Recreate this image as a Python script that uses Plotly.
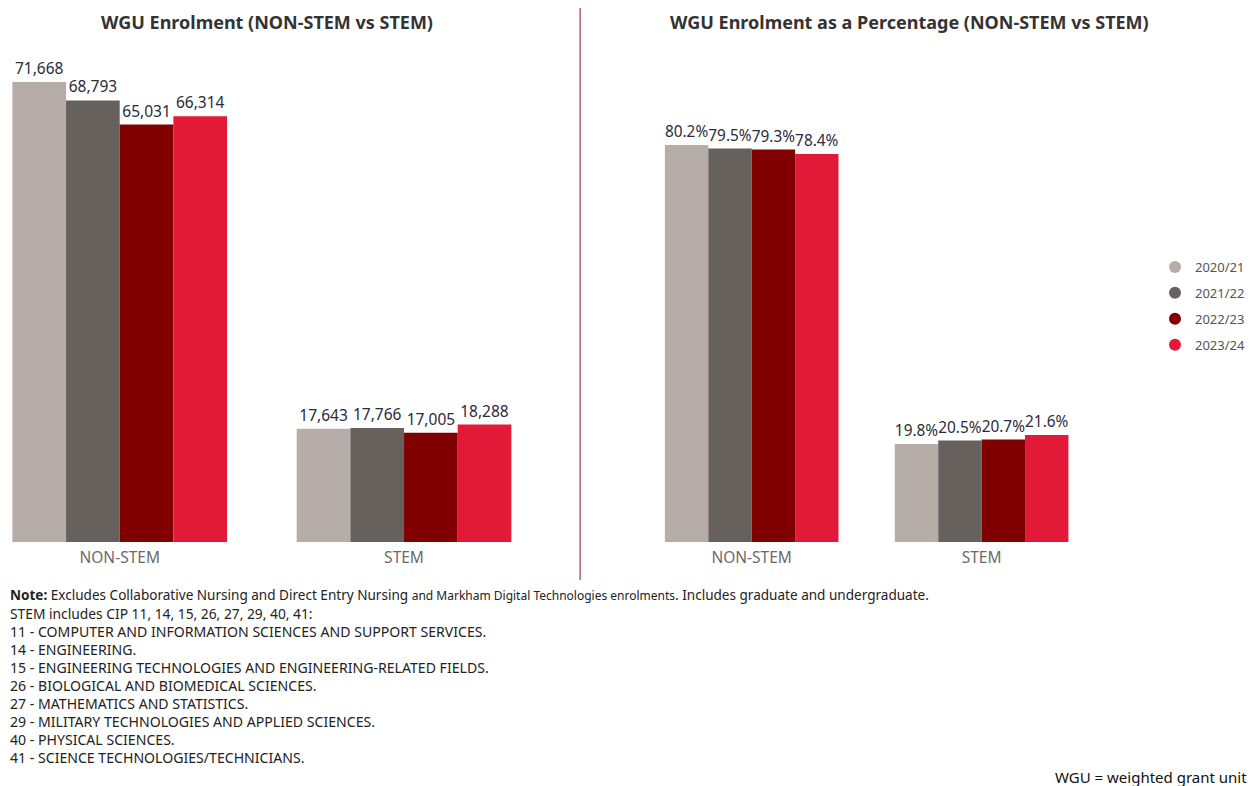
import plotly.graph_objects as go

# Enrolment data (weighted grant units)
categories = ["NON-STEM", "STEM"]
years = ["2020/21", "2021/22", "2022/23", "2023/24"]
wgu_nonstem = [71668, 68793, 65031, 66314]
wgu_stem = [17643, 17766, 17005, 18288]
pct_nonstem = [80.2, 79.5, 79.3, 78.4]
pct_stem = [19.8, 20.5, 20.7, 21.6]
colors = ["#b6ada8", "#67615e", "#800000", "#e21a38"]

W, H = 1251, 786
LABEL_FONT = "Noto Sans, Open Sans, sans-serif"


def px_x(p):
    return p / W


def px_y(p):
    return 1 - p / H


fig = go.Figure()

for i, yr in enumerate(years):
    vals = [wgu_nonstem[i], wgu_stem[i]]
    fig.add_trace(go.Bar(
        x=categories, y=vals, name=yr, marker_color=colors[i],
        marker_line_width=0,
        text=[f"{v:,}" for v in vals], textposition="outside",
        textfont=dict(size=15.5, color="#2b2b3a", family=LABEL_FONT),
        cliponaxis=False, showlegend=False, xaxis="x", yaxis="y",
    ))

for i, yr in enumerate(years):
    vals = [pct_nonstem[i], pct_stem[i]]
    fig.add_trace(go.Bar(
        x=categories, y=vals, name=yr, marker_color=colors[i],
        marker_line_width=0,
        text=[f"{v:.1f}%" for v in vals], textposition="outside",
        textfont=dict(size=15.5, color="#2b2b3a", family=LABEL_FONT),
        cliponaxis=False, showlegend=False, xaxis="x2", yaxis="y2",
    ))

# Legend entries drawn as circle markers
for i, yr in enumerate(years):
    fig.add_trace(go.Scatter(
        x=[None], y=[None], mode="markers", name=yr, legendgroup=yr,
        marker=dict(symbol="circle", size=12, color=colors[i]),
        xaxis="x2", yaxis="y2",
    ))

plot_top, plot_bottom = 50, 542
y_dom = [px_y(plot_bottom), px_y(plot_top)]

# left chart: 460 px for 71,668
left_ymax = 71668 * (plot_bottom - plot_top) / 460
# right chart: 397 px for 80.2 %
right_ymax = 80.2 * (plot_bottom - plot_top) / 397

l0, l1 = 5, 570
r0, r1 = 600, 1140
lc, lstep = 120, 285      # left: first category centre / spacing (px)
rc, rstep = 753.5, 230.5  # right: first category centre / spacing (px)

axis_common = dict(showgrid=False, zeroline=False, showline=False, ticks="")
tick_font = dict(size=15.5, color="#6b6b6b", family=LABEL_FONT)

fig.update_layout(
    width=W, height=H,
    margin=dict(l=0, r=0, t=0, b=0),
    paper_bgcolor="white", plot_bgcolor="white",
    barmode="group", bargap=0.245, bargroupgap=0,
    font=dict(family=LABEL_FONT, color="#333"),
    xaxis=dict(domain=[px_x(l0), px_x(l1)], range=[(l0 - lc) / lstep, (l1 - lc) / lstep],
               tickfont=tick_font, ticklabelstandoff=4, anchor="y", **axis_common),
    yaxis=dict(domain=y_dom, range=[0, left_ymax], showticklabels=False, anchor="x", **axis_common),
    xaxis2=dict(domain=[px_x(r0), px_x(r1)], range=[(r0 - rc) / rstep, (r1 - rc) / rstep],
                tickfont=tick_font, ticklabelstandoff=4, anchor="y2", **axis_common),
    yaxis2=dict(domain=y_dom, range=[0, right_ymax], showticklabels=False, anchor="x2", **axis_common),
    legend=dict(x=px_x(1158), y=px_y(252), xanchor="left", yanchor="top",
                font=dict(size=13, color="#555", family=LABEL_FONT),
                tracegroupgap=6, itemwidth=30, bgcolor="rgba(0,0,0,0)"),
)

# Vertical divider between the two charts
fig.add_shape(type="line", xref="paper", yref="paper",
              x0=px_x(581.5), x1=px_x(581.5), y0=px_y(8), y1=px_y(580),
              line=dict(color="#9b0f28", width=1))

titles = [("WGU Enrolment (NON-STEM vs STEM)", 268),
          ("WGU Enrolment as a Percentage (NON-STEM vs STEM)", 912)]
for txt, cx in titles:
    fig.add_annotation(text=f"<b>{txt}</b>", xref="paper", yref="paper",
                       x=px_x(cx), y=px_y(22), xanchor="center", yanchor="middle",
                       showarrow=False, font=dict(size=18, color="#333", family=LABEL_FONT))

# Footnote lines with their font sizes
note_lines = [
    "<b>Note:</b> Excludes Collaborative Nursing and Direct Entry Nursing "
    "<span style='font-size:12px'>and Markham Digital Technologies enrolments</span>. "
    "Includes graduate and undergraduate.",
    "STEM includes CIP 11, 14, 15, 26, 27, 29, 40, 41:",
    "11 - COMPUTER AND INFORMATION SCIENCES AND SUPPORT SERVICES.",
    "14 - ENGINEERING.",
    "15 - ENGINEERING TECHNOLOGIES AND ENGINEERING-RELATED FIELDS.",
    "26 - BIOLOGICAL AND BIOMEDICAL SCIENCES.",
    "27 - MATHEMATICS AND STATISTICS.",
    "29 - MILITARY TECHNOLOGIES AND APPLIED SCIENCES.",
    "40 - PHYSICAL SCIENCES.",
    "41 - SCIENCE TECHNOLOGIES/TECHNICIANS.",
]
note_sizes = [13.55, 13.8, 14.1, 14.1, 14.1, 14.1, 14.1, 14.1, 14.1, 14.1]
for i, (line, sz) in enumerate(zip(note_lines, note_sizes)):
    fig.add_annotation(text=line, xref="paper", yref="paper",
                       x=px_x(8), y=px_y(595 + 18 * i), xanchor="left", yanchor="middle",
                       align="left", showarrow=False,
                       font=dict(size=sz, color="#222", family=LABEL_FONT))

fig.add_annotation(text="WGU = weighted grant unit", xref="paper", yref="paper",
                   x=px_x(1252), y=px_y(777), xanchor="right", yanchor="middle",
                   showarrow=False, font=dict(size=15, color="#111", family=LABEL_FONT))

fig.write_html("out.html")
